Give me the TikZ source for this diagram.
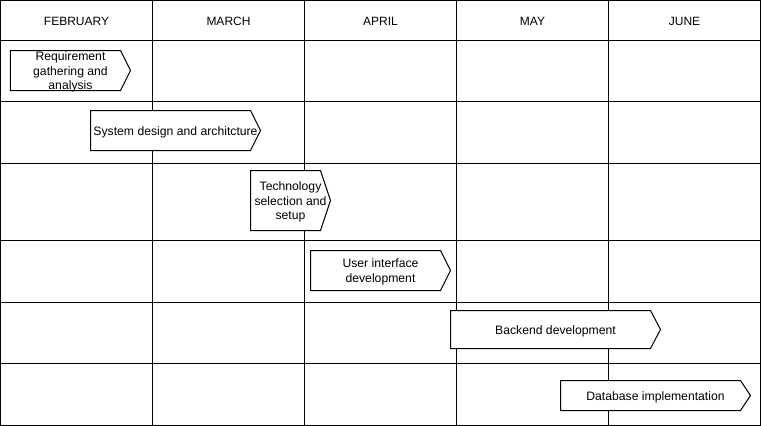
\documentclass[tikz,border=0pt]{standalone}
\usepackage{fontspec}
\setmainfont{Liberation Sans}
\tikzset{
  gridline/.style={line width=1pt, draw=black},
  stepbox/.style={line width=1pt, draw=black, fill=white},
  steptext/.style={font=\fontsize{12.2}{14.5}\selectfont, align=center, inner sep=0pt, text=black, yshift=-1.5pt},
  header/.style={font=\fontsize{12}{14}\selectfont, inner sep=0pt, text=black}
}
\newcommand\mystep[6]{%
  \path[stepbox] (#2,#3) -- ({#4-10},#3) -- (#4,{(#3+#5)/2}) -- ({#4-10},#5) -- (#2,#5) -- cycle;
  \node[steptext] (#1) at ({(#2+#4)/2},{(#3+#5)/2}) {#6};
}
\begin{document}
\begin{tikzpicture}[x=1pt,y=-1pt]
\useasboundingbox (-0.5,-0.5) rectangle (760.5,425.5);
% grid
\draw[gridline] (0,0) rectangle (760,425);
\foreach \xx in {152,304,456,608} \draw[gridline] (\xx,0) -- (\xx,425);
\foreach \yy in {40,101,163,240,302,363} \draw[gridline] (0,\yy) -- (760,\yy);
% headers
\node[header] (feb) at (76,20.5) {FEBRUARY};
\node[header] (mar) at (228,20.5) {MARCH};
\node[header] (apr) at (380,20.5) {APRIL};
\node[header] (may) at (532,20.5) {MAY};
\node[header] (jun) at (684,20.5) {JUNE};
% steps
\mystep{s1}{10}{50}{130}{90}{Requirement\\gathering and\\analysis}
\mystep{s2}{90}{110}{260}{150}{System design and architcture}
\mystep{s3}{250}{170}{330}{230}{Technology\\selection and\\setup}
\mystep{s4}{310}{250}{450}{290}{User interface\\development}
\mystep{s5}{450}{310}{660}{348}{Backend development}
\mystep{s6}{560}{380}{750}{410}{Database implementation}
\end{tikzpicture}
\end{document}
